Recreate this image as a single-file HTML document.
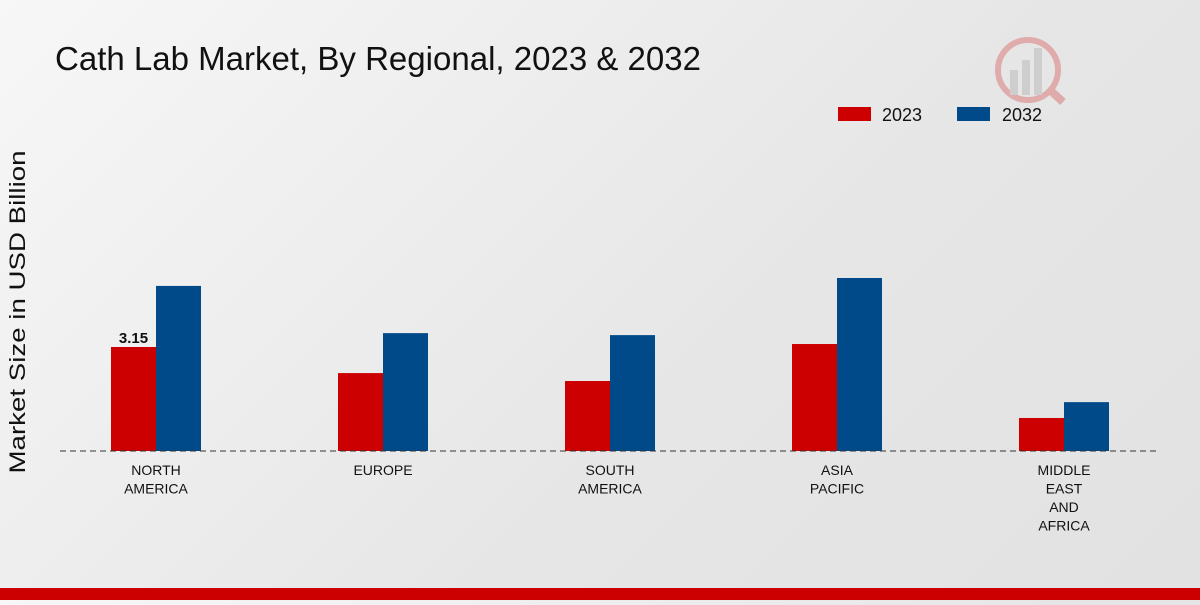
<!DOCTYPE html>
<html><head><meta charset="utf-8"><style>
html,body{margin:0;padding:0}
body{width:1200px;height:600px;overflow:hidden;background:linear-gradient(135deg,#f7f7f7 0%,#e6e6e6 60%,#e2e2e2 100%);font-family:"Liberation Sans",sans-serif;position:relative}
</style></head><body>
<svg width="1200" height="600" xmlns="http://www.w3.org/2000/svg">
<text x="55" y="70" font-family="Liberation Sans Narrow, Liberation Sans, sans-serif" font-size="33" fill="#111" textLength="646" lengthAdjust="spacingAndGlyphs">Cath Lab Market, By Regional, 2023 &amp; 2032</text>
<g opacity="0.25">
<circle cx="1028" cy="70" r="30" fill="none" stroke="#c00" stroke-width="6"/>
<rect x="1010" y="70" width="8" height="25" fill="#888"/><rect x="1022" y="60" width="8" height="35" fill="#888"/><rect x="1034" y="48" width="8" height="47" fill="#888"/>
<line x1="1050" y1="90" x2="1063" y2="102" stroke="#c00" stroke-width="8"/>
</g>
<g>
<rect x="838" y="107" width="33" height="14" fill="#cc0000"/>
<text x="882" y="121" font-size="18" fill="#111">2023</text>
<rect x="957" y="107" width="33" height="14" fill="#004a8a"/>
<text x="1002" y="121" font-size="18" fill="#111">2032</text>
</g>
<text transform="translate(25,312) rotate(-90)" text-anchor="middle" font-size="22" fill="#111" textLength="323" lengthAdjust="spacingAndGlyphs">Market Size in USD Billion</text>
<g id="bars"></g>
<line x1="60" y1="451" x2="1160" y2="451" stroke="#333" stroke-width="1" stroke-dasharray="6,4"/>
<g id="labels"></g>
<rect x="0" y="588" width="1200" height="12" fill="#cc0000"/>
</svg>
<script>
const categories=[["NORTH","AMERICA"],["EUROPE"],["SOUTH","AMERICA"],["ASIA","PACIFIC"],["MIDDLE","EAST","AND","AFRICA"]];
const values2023=[3.15,2.36,2.12,3.24,1.0];
const values2032=[5.0,3.57,3.51,5.24,1.48];
const NS="http://www.w3.org/2000/svg";
const base=451,scale=104/3.15,x0=156,step=227,bw=45;
const y=v=>base-v*scale;
const bars=document.getElementById('bars'),labels=document.getElementById('labels');
categories.forEach((c,i)=>{
  const cx=x0+i*step;
  [[values2023[i],cx-bw,'#cc0000','2023'],[values2032[i],cx,'#004a8a','2032']].forEach(([v,x,col,s])=>{
    const r=document.createElementNS(NS,'rect');
    r.setAttribute('x',x);r.setAttribute('y',y(v));r.setAttribute('width',bw);r.setAttribute('height',base-y(v));r.setAttribute('fill',col);
    
    
    bars.appendChild(r);
  });
  c.forEach((ln,j)=>{
    const t=document.createElementNS(NS,'text');
    t.setAttribute('x',cx);t.setAttribute('y',475+j*18.5);t.setAttribute('text-anchor','middle');t.setAttribute('font-size','14');t.setAttribute('fill','#111');
    t.setAttribute('font-family','Liberation Sans Narrow, Liberation Sans, sans-serif');
    t.textContent=ln;
    
    
    labels.appendChild(t);
  });
});
const vl=document.createElementNS(NS,'text');
vl.setAttribute('x',x0-bw/2);vl.setAttribute('y',y(values2023[0])-4);vl.setAttribute('text-anchor','middle');vl.setAttribute('font-size','15');vl.setAttribute('font-weight','bold');vl.setAttribute('fill','#111');
vl.textContent=values2023[0].toFixed(2);


labels.appendChild(vl);
</script>
</body></html>
